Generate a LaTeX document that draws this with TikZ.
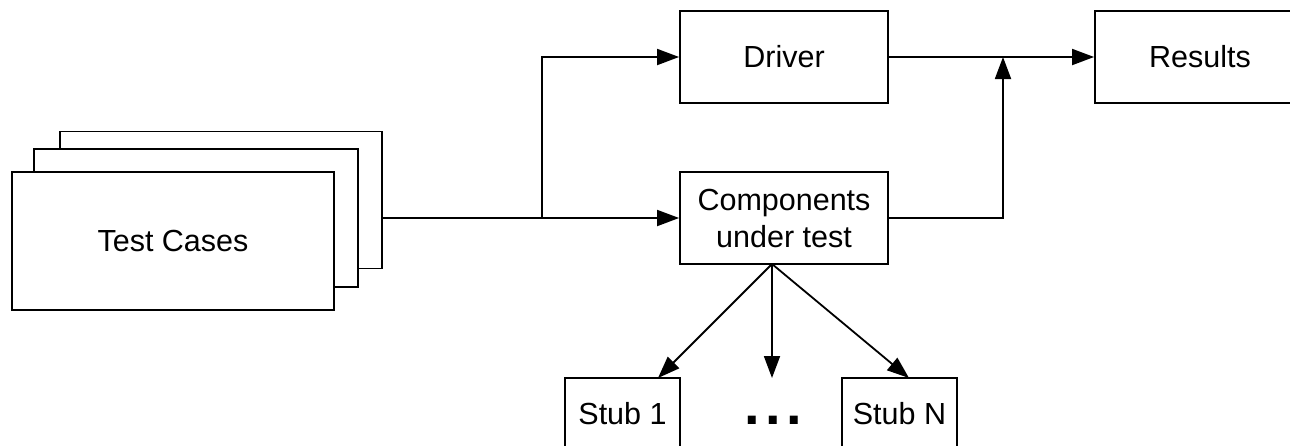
\documentclass[tikz,border=0pt]{standalone}
\usepackage{fontspec}
\setmainfont{Liberation Sans}
\usetikzlibrary{arrows.meta,calc}
\begin{document}
\begin{tikzpicture}[x=1pt,y=-1pt,
  box/.style={draw,line width=1.8pt,fill=white,inner sep=0pt,
    font=\fontsize{30.5}{37}\selectfont,align=center},
  flow/.style={line width=1.8pt,-{Triangle[length=22pt,width=16pt]}},
  wire/.style={line width=1.8pt}]
\useasboundingbox (0,0) rectangle (1290,445);
\clip (0,0) rectangle (1290,445);

% stack of test case sheets, back to front
\node[box,minimum width=322pt,minimum height=137pt] (tcback) at (221,200) {};
\node[box,minimum width=324pt,minimum height=138pt] (tcmid) at (196,218) {};
\node[box,minimum width=322pt,minimum height=138pt] (tc) at (173,241) {Test Cases};

% main boxes
\node[box,minimum width=208pt,minimum height=92pt] (drv) at (784,57) {Driver};
\node[box,minimum width=208pt,minimum height=92pt] (cut) at (784,218) {Components\\under test};
\node[box,minimum width=210pt,minimum height=92pt] (res) at (1200,57) {Results};

% stubs
\node[box,minimum width=115pt,minimum height=72pt] (stub1) at (622.5,414) {Stub 1};
\node[box,minimum width=115pt,minimum height=72pt] (stubn) at (899.5,414) {Stub N};
\node[anchor=base,inner sep=0pt,font=\fontsize{56}{56}\selectfont\bfseries] (dots) at (773,424)
  {.\hspace{5.5pt}.\hspace{5.5pt}.};

% connection points
\coordinate (split) at (542,218);
\coordinate (merge) at (1003,57);
\coordinate (fan) at (772,264);
\coordinate (s1top) at (658,378);
\coordinate (midtop) at (772,378);
\coordinate (sntop) at (909,378);

% connectors
\draw[flow] (tcback.east |- cut.west) -- (cut.west);
\draw[flow] (split) |- (drv.west);
\draw[flow] (drv.east) -- (res.west);
\draw[flow] (cut.east) -| (merge);
\draw[flow] (fan) -- (s1top);
\draw[flow] (fan) -- (midtop);
\draw[flow] (fan) -- (sntop);
\end{tikzpicture}
\end{document}
